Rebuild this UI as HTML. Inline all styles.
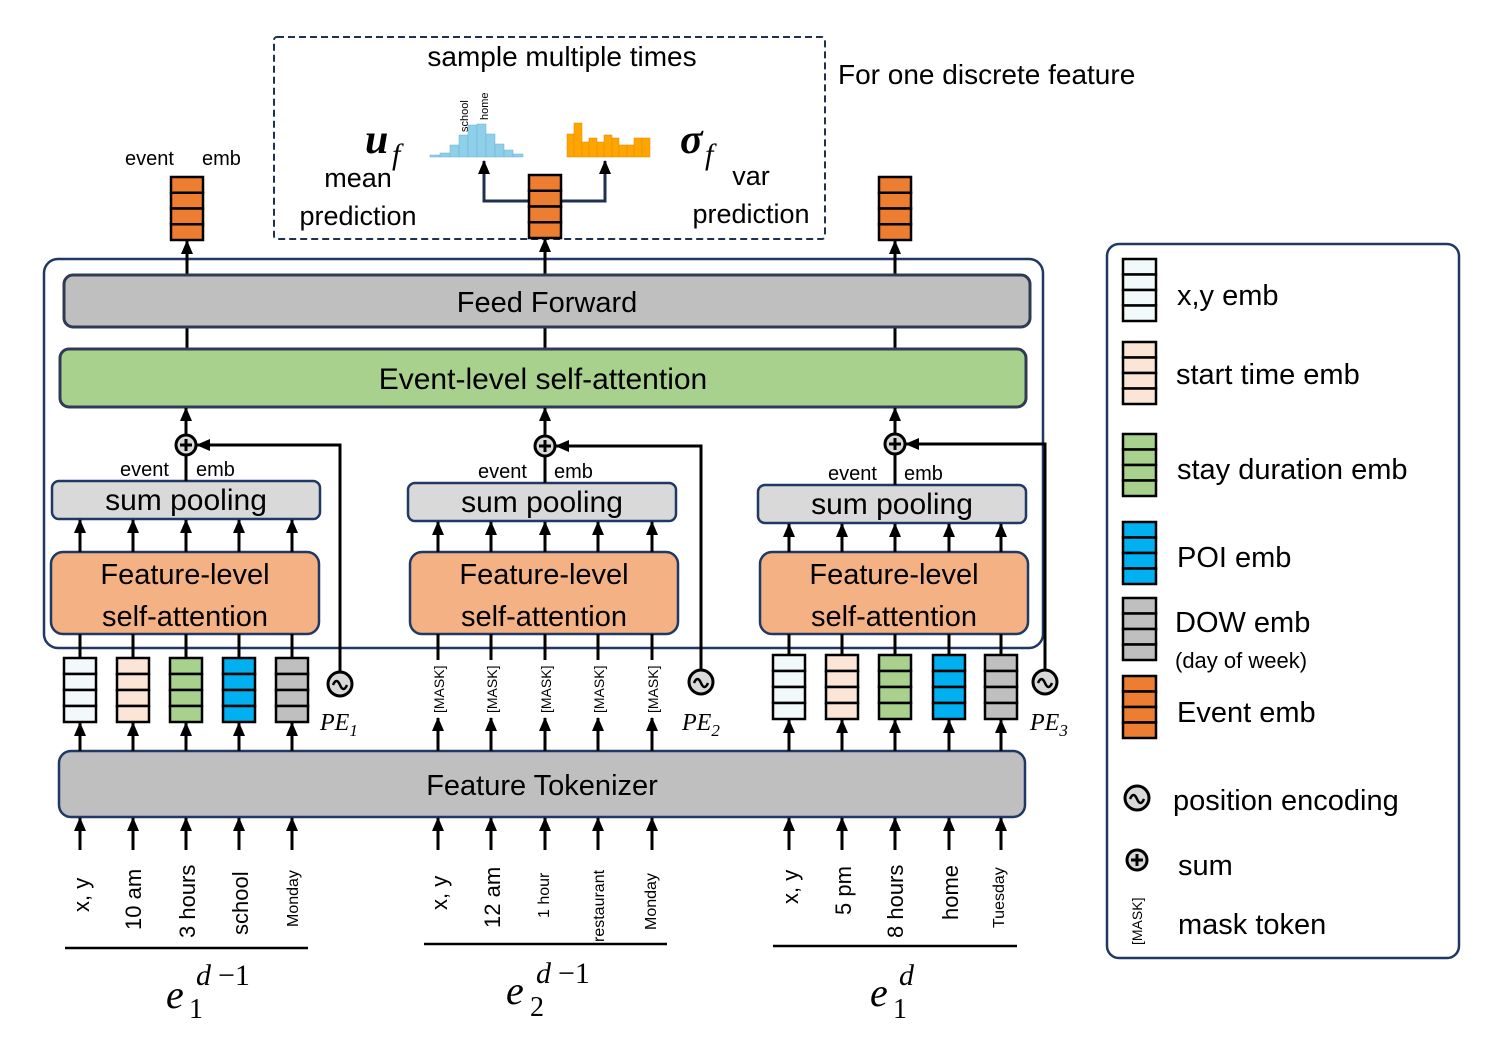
<!DOCTYPE html>
<html><head><meta charset="utf-8"><style>
html,body{margin:0;padding:0;background:#fff;}
svg{display:block;font-family:"Liberation Sans",sans-serif;}
text{fill:#000;}
</style></head><body>
<svg id="s" width="1495" height="1049" viewBox="0 0 1495 1049" xmlns="http://www.w3.org/2000/svg">
<defs>
<marker id="a" viewBox="0 0 14 12" markerWidth="14" markerHeight="12" refX="13" refY="6" orient="auto" markerUnits="userSpaceOnUse"><path d="M0,0 L14,6 L0,12 z" fill="#000"/></marker>
</defs>
<rect x="0" y="0" width="1495" height="1049" fill="#fff"/>
<rect x="274" y="37" width="551" height="202" fill="none" stroke="#1f3050" stroke-width="2" stroke-dasharray="7,4" rx="3"/>
<text x="562" y="66" font-size="28" text-anchor="middle">sample multiple times</text>
<text x="838" y="84" font-size="28">For one discrete feature</text>
<text x="365" y="153" font-size="42" font-weight="bold" font-style="italic" font-family="Liberation Serif,serif">u</text>
<text x="392" y="164" font-size="30" font-style="italic" font-family="Liberation Serif,serif">f</text>
<text x="680" y="153" font-size="42" font-weight="bold" font-style="italic" font-family="Liberation Serif,serif">σ</text>
<text x="705" y="164" font-size="30" font-style="italic" font-family="Liberation Serif,serif">f</text>
<text x="358" y="187" font-size="27" text-anchor="middle">mean</text>
<text x="358" y="225" font-size="27" text-anchor="middle">prediction</text>
<text x="751" y="185" font-size="27" text-anchor="middle">var</text>
<text x="751" y="223" font-size="27" text-anchor="middle">prediction</text>
<g fill="#8ecfe9" stroke="#6fb0cc" stroke-width="0.5">
<rect x="430" y="155" width="10" height="2"/><rect x="440" y="153" width="10" height="4"/><rect x="450" y="145" width="9" height="12"/><rect x="459" y="135" width="9" height="22"/><rect x="468" y="125" width="9" height="32"/><rect x="477" y="124" width="9" height="33"/><rect x="486" y="134" width="9" height="23"/><rect x="495" y="144" width="9" height="13"/><rect x="504" y="150" width="9" height="7"/><rect x="513" y="154" width="10" height="3"/>
</g>
<text transform="translate(468,132) rotate(-90)" font-size="11">school</text>
<text transform="translate(488,120) rotate(-90)" font-size="11">home</text>
<g fill="#ffa500" stroke="#e08e00" stroke-width="0.5">
<rect x="567" y="134" width="7" height="23"/><rect x="574" y="123" width="8" height="34"/><rect x="582" y="142" width="7" height="15"/><rect x="589" y="138" width="8" height="19"/><rect x="597" y="142" width="7" height="15"/><rect x="604" y="135" width="8" height="22"/><rect x="612" y="138" width="7" height="19"/><rect x="619" y="145" width="8" height="12"/><rect x="627" y="145" width="7" height="12"/><rect x="634" y="138" width="8" height="19"/><rect x="642" y="138" width="8" height="19"/>
</g>
<path d="M529,201 L484,201 L484,161" fill="none" stroke="#1f3050" stroke-width="3" marker-end="url(#a)"/>
<path d="M561,201 L605,201 L605,161" fill="none" stroke="#1f3050" stroke-width="3" marker-end="url(#a)"/>
<text x="125" y="165" font-size="20">event</text><text x="202" y="165" font-size="20">emb</text>

<rect x="44" y="259" width="999" height="389" rx="14" fill="none" stroke="#1f3864" stroke-width="2.5"/>
<g id="lines"></g>
<rect x="64" y="275" width="966" height="52" rx="9" fill="#bfbfbf" stroke="#2f3b55" stroke-width="3"/>
<text x="547" y="312" font-size="29" text-anchor="middle">Feed Forward</text>
<rect x="60" y="349" width="966" height="58" rx="9" fill="#a9d18e" stroke="#2f3b55" stroke-width="3"/>
<text x="543" y="389" font-size="30" text-anchor="middle">Event-level self-attention</text>

<rect x="52" y="481" width="268" height="38" rx="7" fill="#d9d9d9" stroke="#1f3864" stroke-width="2.5"/>
<text x="186" y="510" font-size="30" text-anchor="middle">sum pooling</text>
<rect x="408" y="483" width="268" height="38" rx="7" fill="#d9d9d9" stroke="#1f3864" stroke-width="2.5"/>
<text x="542" y="512" font-size="30" text-anchor="middle">sum pooling</text>
<rect x="758" y="485" width="268" height="38" rx="7" fill="#d9d9d9" stroke="#1f3864" stroke-width="2.5"/>
<text x="892" y="514" font-size="30" text-anchor="middle">sum pooling</text>
<text x="120" y="476" font-size="20">event</text><text x="196" y="476" font-size="20">emb</text>
<text x="478" y="478" font-size="20">event</text><text x="554" y="478" font-size="20">emb</text>
<text x="828" y="480" font-size="20">event</text><text x="904" y="480" font-size="20">emb</text>

<rect x="51" y="552" width="268" height="82" rx="12" fill="#f4b183" stroke="#1f3864" stroke-width="2.5"/>
<text x="185" y="584" font-size="29" text-anchor="middle">Feature-level</text><text x="185" y="626" font-size="29" text-anchor="middle">self-attention</text>
<rect x="410" y="552" width="268" height="82" rx="12" fill="#f4b183" stroke="#1f3864" stroke-width="2.5"/>
<text x="544" y="584" font-size="29" text-anchor="middle">Feature-level</text><text x="544" y="626" font-size="29" text-anchor="middle">self-attention</text>
<rect x="760" y="552" width="268" height="82" rx="12" fill="#f4b183" stroke="#1f3864" stroke-width="2.5"/>
<text x="894" y="584" font-size="29" text-anchor="middle">Feature-level</text><text x="894" y="626" font-size="29" text-anchor="middle">self-attention</text>

<rect x="59" y="751" width="966" height="66" rx="12" fill="#bfbfbf" stroke="#1f3864" stroke-width="2.5"/>
<text x="542" y="795" font-size="29" text-anchor="middle">Feature Tokenizer</text>

<g id="shapes"></g>

<g font-size="14">
<text transform="translate(444,713) rotate(-90)">[MASK]</text>
<text transform="translate(497,713) rotate(-90)">[MASK]</text>
<text transform="translate(551,713) rotate(-90)">[MASK]</text>
<text transform="translate(604,713) rotate(-90)">[MASK]</text>
<text transform="translate(658,713) rotate(-90)">[MASK]</text>
</g>
<g font-family="Liberation Serif,serif" font-style="italic" font-size="24">
<text x="320" y="730">PE<tspan font-size="17" dy="6">1</tspan></text>
<text x="682" y="730">PE<tspan font-size="17" dy="6">2</tspan></text>
<text x="1030" y="730">PE<tspan font-size="17" dy="6">3</tspan></text>
</g>
<g>
<text transform="translate(89,912) rotate(-90)" font-size="22">x, y</text>
<text transform="translate(141,930) rotate(-90)" font-size="22">10 am</text>
<text transform="translate(195,938) rotate(-90)" font-size="22">3 hours</text>
<text transform="translate(248,935) rotate(-90)" font-size="22">school</text>
<text transform="translate(298,927) rotate(-90)" font-size="16">Monday</text>
<text transform="translate(447,910) rotate(-90)" font-size="22">x, y</text>
<text transform="translate(500,928) rotate(-90)" font-size="22">12 am</text>
<text transform="translate(549,918) rotate(-90)" font-size="16">1 hour</text>
<text transform="translate(604,942) rotate(-90)" font-size="16">restaurant</text>
<text transform="translate(656,930) rotate(-90)" font-size="16">Monday</text>
<text transform="translate(798,904) rotate(-90)" font-size="22">x, y</text>
<text transform="translate(851,915) rotate(-90)" font-size="22">5 pm</text>
<text transform="translate(903,938) rotate(-90)" font-size="22">8 hours</text>
<text transform="translate(958,920) rotate(-90)" font-size="22">home</text>
<text transform="translate(1004,928) rotate(-90)" font-size="16">Tuesday</text>
</g>
<line x1="65" y1="948" x2="308" y2="948" stroke="#000" stroke-width="2.5"/>
<line x1="424" y1="944" x2="667" y2="944" stroke="#000" stroke-width="2.5"/>
<line x1="773" y1="946" x2="1017" y2="946" stroke="#000" stroke-width="2.5"/>
<g font-family="Liberation Serif,serif" font-style="italic">
<text x="166" y="1008" font-size="40">e</text><text x="189" y="1018" font-size="28" font-style="normal">1</text><text x="196" y="985" font-size="30">d</text><text x="218" y="985" font-size="30" font-style="normal">−1</text>
<text x="506" y="1004" font-size="40">e</text><text x="530" y="1016" font-size="28" font-style="normal">2</text><text x="536" y="983" font-size="30">d</text><text x="558" y="983" font-size="30" font-style="normal">−1</text>
<text x="870" y="1006" font-size="40">e</text><text x="893" y="1018" font-size="28" font-style="normal">1</text><text x="899" y="985" font-size="30">d</text>
</g>

<rect x="1107" y="244" width="352" height="714" rx="12" fill="none" stroke="#1f3864" stroke-width="2.5"/>
<g font-size="29">
<text x="1177" y="305">x,y emb</text>
<text x="1176" y="384">start time emb</text>
<text x="1177" y="479">stay duration emb</text>
<text x="1177" y="567">POI emb</text>
<text x="1175" y="632">DOW emb</text>
<text x="1175" y="668" font-size="22">(day of week)</text>
<text x="1177" y="722">Event emb</text>
<text x="1173" y="810">position encoding</text>
<text x="1178" y="875">sum</text>
<text x="1178" y="934">mask token</text>
</g>
<text transform="translate(1142,945) rotate(-90)" font-size="14">[MASK]</text>
</svg>
<script>
var S=document.getElementById('shapes'),L=document.getElementById('lines'),ns='http://www.w3.org/2000/svg';
function el(p,t,a){var e=document.createElementNS(ns,t);for(var k in a)e.setAttribute(k,a[k]);p.appendChild(e);return e;}
function arrow(p,x,y1,y2){el(p,'line',{x1:x,y1:y1,x2:x,y2:y2+1,stroke:'#000','stroke-width':3,'marker-end':'url(#a)'});}
function stack(x,y,w,h,c){var g=el(S,'g',{});for(var i=0;i<4;i++)el(g,'rect',{x:x,y:y+i*h/4,width:w,height:h/4,fill:c,stroke:'#000','stroke-width':2.5});}
function pe(cx,cy){el(S,'circle',{cx:cx,cy:cy,r:12,fill:'#d9d9d9',stroke:'#000','stroke-width':3});el(S,'path',{d:'M'+(cx-7)+','+(cy+1)+' q3.5,-8 7,0 t7,0',fill:'none',stroke:'#000','stroke-width':2.5});}
function plus(cx,cy){el(S,'circle',{cx:cx,cy:cy,r:10,fill:'#d9d9d9',stroke:'#000','stroke-width':3});el(S,'path',{d:'M'+(cx-6)+','+cy+'h12M'+cx+','+(cy-6)+'v12',stroke:'#000','stroke-width':3});}
var cols=[[80,133,186,239,292],[438,491,545,598,652],[789,842,895,949,1001]];
var fill=['#f2f9fa','#fbe5d6','#a9d18e','#00b0f0','#bfbfbf'];
var sp=[[481,186,445,340,684],[483,545,446,701,682],[485,895,444,1045,682]];
cols.forEach(function(c,g){
 c.forEach(function(x,i){
  arrow(S,x,850,817);
  if(g==1){arrow(S,x,751,717);el(S,'line',{x1:x,y1:660,x2:x,y2:634,stroke:'#000','stroke-width':3});}
  else{var ty=g==0?658:655;arrow(S,x,751,ty+64);stack(x-16,ty,32,64,fill[i]);el(S,'line',{x1:x,y1:ty,x2:x,y2:634,stroke:'#000','stroke-width':3});}
  arrow(S,x,552,sp[g][0]+38);
 });
 var cx=sp[g][1],py=sp[g][2];
 el(S,'line',{x1:cx,y1:sp[g][0],x2:cx,y2:py,stroke:'#000','stroke-width':3});
 arrow(S,cx,py-10,407);
 el(S,'path',{d:'M'+sp[g][3]+','+(sp[g][4]-12)+' L'+sp[g][3]+','+py+' L'+(cx+11)+','+py,fill:'none',stroke:'#000','stroke-width':3,'marker-end':'url(#a)'});
 plus(cx,py);pe(sp[g][3],sp[g][4]);
});
[[187,177],[545,175],[895,177]].forEach(function(p){
 el(L,'line',{x1:p[0],y1:349,x2:p[0],y2:327,stroke:'#000','stroke-width':3});
 arrow(L,p[0],275,p[1]+63);
 stack(p[0]-16,p[1],32,63,'#ed7d31');
});
[['#f2f9fa',259],['#fbe5d6',342],['#a9d18e',434],['#00b0f0',522],['#bfbfbf',598],['#ed7d31',676]].forEach(function(l){stack(1123,l[1],33,62,l[0]);});
pe(1137,798);plus(1137,860);
</script>
</body></html>
